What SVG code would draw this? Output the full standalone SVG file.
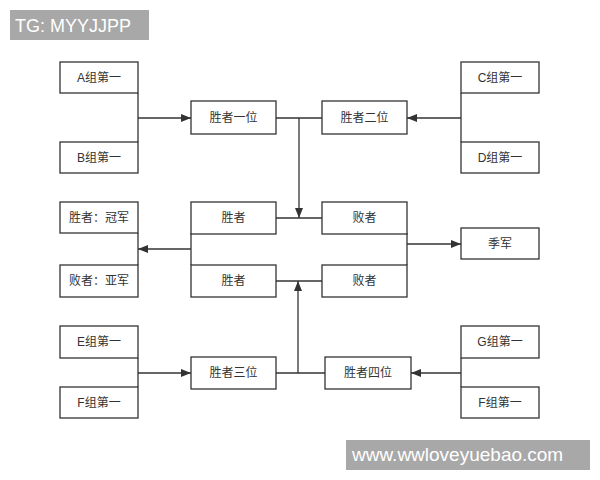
<svg xmlns="http://www.w3.org/2000/svg" width="600" height="480" viewBox="0 0 600 480">
<style>
.n rect{fill:#fff;stroke:#333;stroke-width:1.3}
.n text{font-family:"Liberation Sans","Noto Sans CJK SC",sans-serif;font-size:12px;fill:#333;text-anchor:middle}
.c path{fill:none;stroke:#333;stroke-width:1.3}
.wm rect{fill:#a8a8a8}
.wm text{font-family:"Liberation Sans",sans-serif;fill:#fff}
</style>
<defs>
<marker id="ar" viewBox="0 0 10 10" refX="10" refY="5" markerWidth="10" markerHeight="10" markerUnits="userSpaceOnUse" orient="auto">
<path d="M0,1 L10,5 L0,9 Z" fill="#333"/>
</marker>
</defs>
<rect width="600" height="480" fill="#fff"/>
<g class="c">
<path d="M138,93 V142"/>
<path d="M138,118 H191" marker-end="url(#ar)"/>
<path d="M461,93 V142"/>
<path d="M461,118 H407" marker-end="url(#ar)"/>
<path d="M276,118 H322"/>
<path d="M299,118 V218" marker-end="url(#ar)"/>
<path d="M276,218 H322"/>
<path d="M138,233 V265"/>
<path d="M191,233 V265"/>
<path d="M191,249 H138" marker-end="url(#ar)"/>
<path d="M407,233 V265"/>
<path d="M407,244 H461" marker-end="url(#ar)"/>
<path d="M276,281 H322"/>
<path d="M138,358 V387"/>
<path d="M138,373 H191" marker-end="url(#ar)"/>
<path d="M461,358 V387"/>
<path d="M461,373 H411" marker-end="url(#ar)"/>
<path d="M276,373 H325"/>
<path d="M298,373 V281" marker-end="url(#ar)"/>
</g>
<g id="nA" class="n"><rect x="60" y="62" width="78" height="31"/><text x="99" y="82">A组第一</text></g>
<g id="nB" class="n"><rect x="60" y="142" width="78" height="31"/><text x="99" y="162">B组第一</text></g>
<g id="nC" class="n"><rect x="461" y="62" width="78" height="31"/><text x="500" y="82">C组第一</text></g>
<g id="nD" class="n"><rect x="461" y="142" width="78" height="31"/><text x="500" y="162">D组第一</text></g>
<g id="w1" class="n"><rect x="191" y="101" width="85" height="33"/><text x="233.5" y="122">胜者一位</text></g>
<g id="w2" class="n"><rect x="322" y="101" width="85" height="33"/><text x="364.5" y="122">胜者二位</text></g>
<g id="champ" class="n"><rect x="60" y="202" width="78" height="31"/><text x="99" y="222">胜者：冠军</text></g>
<g id="runner" class="n"><rect x="60" y="265" width="78" height="32"/><text x="99" y="285">败者：亚军</text></g>
<g id="sw1" class="n"><rect x="191" y="202" width="85" height="32"/><text x="233.5" y="222">胜者</text></g>
<g id="sl1" class="n"><rect x="322" y="202" width="85" height="32"/><text x="364.5" y="222">败者</text></g>
<g id="sw2" class="n"><rect x="191" y="265" width="85" height="32"/><text x="233.5" y="285">胜者</text></g>
<g id="sl2" class="n"><rect x="322" y="265" width="85" height="32"/><text x="364.5" y="285">败者</text></g>
<g id="third" class="n"><rect x="461" y="228" width="78" height="31"/><text x="500" y="248">季军</text></g>
<g id="nE" class="n"><rect x="60" y="326" width="78" height="32"/><text x="99" y="346">E组第一</text></g>
<g id="nF" class="n"><rect x="60" y="387" width="78" height="31"/><text x="99" y="407">F组第一</text></g>
<g id="w3" class="n"><rect x="191" y="357" width="85" height="32"/><text x="233.5" y="377">胜者三位</text></g>
<g id="w4" class="n"><rect x="325" y="357" width="86" height="32"/><text x="368" y="377">胜者四位</text></g>
<g id="nG" class="n"><rect x="461" y="326" width="78" height="32"/><text x="500" y="346">G组第一</text></g>
<g id="nF2" class="n"><rect x="461" y="387" width="78" height="31"/><text x="500" y="407">F组第一</text></g>
<g class="wm">
<rect x="10" y="10" width="139" height="30"/>
<text x="15" y="32" font-size="18">TG: MYYJJPP</text>
<rect x="346" y="440" width="244" height="30"/>
<text x="352" y="461" font-size="19">www.wwloveyuebao.com</text>
</g>
</svg>
